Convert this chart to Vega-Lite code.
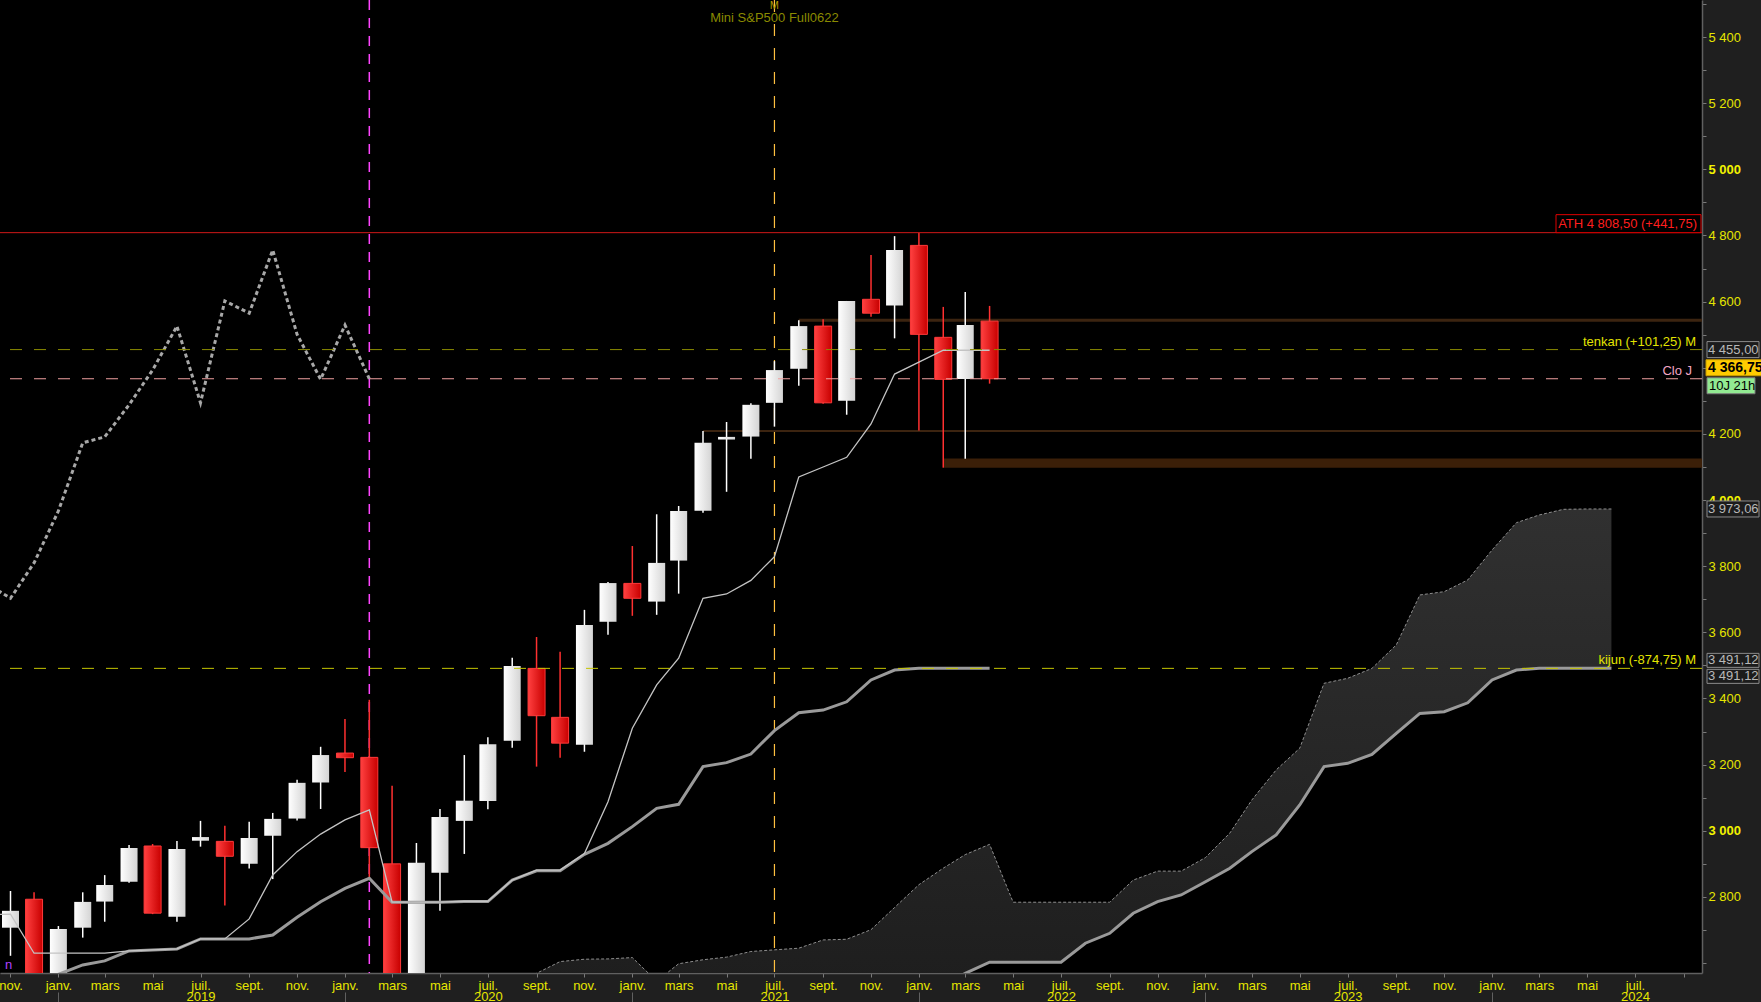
{
  "$schema": "https://vega.github.io/schema/vega-lite/v6.json",
  "width": 1702,
  "height": 973,
  "autosize": {"type": "none"},
  "padding": {"left": 0, "top": 0, "right": 59, "bottom": 29},
  "datasets": {
    "candles": [
      {"d":"2018-11-01","o":2707,"h":2818,"l":2622,"c":2758},
      {"d":"2018-12-01","o":2793,"h":2814,"l":2315,"c":2505},
      {"d":"2019-01-01","o":2480,"h":2712,"l":2440,"c":2703},
      {"d":"2019-02-01","o":2707,"h":2814,"l":2677,"c":2785},
      {"d":"2019-03-01","o":2786,"h":2866,"l":2725,"c":2836},
      {"d":"2019-04-01","o":2846,"h":2957,"l":2843,"c":2948},
      {"d":"2019-05-01","o":2954,"h":2960,"l":2748,"c":2751},
      {"d":"2019-06-01","o":2740,"h":2969,"l":2725,"c":2945},
      {"d":"2019-07-01","o":2970,"h":3030,"l":2952,"c":2981},
      {"d":"2019-08-01","o":2968,"h":3015,"l":2774,"c":2923},
      {"d":"2019-09-01","o":2900,"h":3027,"l":2886,"c":2978},
      {"d":"2019-10-01","o":2985,"h":3054,"l":2854,"c":3036},
      {"d":"2019-11-01","o":3037,"h":3154,"l":3031,"c":3145},
      {"d":"2019-12-01","o":3146,"h":3254,"l":3066,"c":3229},
      {"d":"2020-01-01","o":3235,"h":3338,"l":3178,"c":3221},
      {"d":"2020-02-01","o":3222,"h":3396,"l":2853,"c":2949},
      {"d":"2020-03-01","o":2900,"h":3136,"l":2180,"c":2555},
      {"d":"2020-04-01","o":2555,"h":2963,"l":2430,"c":2903},
      {"d":"2020-05-01","o":2873,"h":3066,"l":2758,"c":3042},
      {"d":"2020-06-01","o":3030,"h":3229,"l":2930,"c":3091},
      {"d":"2020-07-01","o":3090,"h":3283,"l":3065,"c":3262},
      {"d":"2020-08-01","o":3272,"h":3523,"l":3251,"c":3498},
      {"d":"2020-09-01","o":3491,"h":3586,"l":3194,"c":3348},
      {"d":"2020-10-01","o":3343,"h":3541,"l":3221,"c":3265},
      {"d":"2020-11-01","o":3260,"h":3668,"l":3239,"c":3622},
      {"d":"2020-12-01","o":3632,"h":3752,"l":3593,"c":3749},
      {"d":"2021-01-01","o":3748,"h":3861,"l":3650,"c":3703},
      {"d":"2021-02-01","o":3693,"h":3957,"l":3653,"c":3810},
      {"d":"2021-03-01","o":3817,"h":3982,"l":3717,"c":3967},
      {"d":"2021-04-01","o":3968,"h":4209,"l":3962,"c":4173},
      {"d":"2021-05-01","o":4183,"h":4236,"l":4025,"c":4191},
      {"d":"2021-06-01","o":4192,"h":4293,"l":4125,"c":4288},
      {"d":"2021-07-01","o":4294,"h":4420,"l":4222,"c":4393},
      {"d":"2021-08-01","o":4397,"h":4544,"l":4346,"c":4526},
      {"d":"2021-09-01","o":4526,"h":4547,"l":4291,"c":4294},
      {"d":"2021-10-01","o":4300,"h":4602,"l":4258,"c":4602},
      {"d":"2021-11-01","o":4607,"h":4741,"l":4554,"c":4565},
      {"d":"2021-12-01","o":4588,"h":4798,"l":4489,"c":4756},
      {"d":"2022-01-01","o":4770,"h":4808.5,"l":4210,"c":4501},
      {"d":"2022-02-01","o":4492,"h":4584,"l":4098,"c":4365},
      {"d":"2022-03-01","o":4366,"h":4629,"l":4125,"c":4529},
      {"d":"2022-04-01","o":4541,"h":4587,"l":4352,"c":4366.75}
    ],
    "ichi": [
      {"d":"2018-10-01","t":2747,"k":2478},
      {"d":"2018-11-01","t":2747.6,"k":2486},
      {"d":"2018-12-01","t":2629.8,"k":2460},
      {"d":"2019-01-01","t":2629.8,"k":2566},
      {"d":"2019-02-01","t":2629.8,"k":2594.4},
      {"d":"2019-03-01","t":2629.8,"k":2606.6},
      {"d":"2019-04-01","t":2636.8,"k":2636.8},
      {"d":"2019-05-01","t":2639.8,"k":2639.8},
      {"d":"2019-06-01","t":2642.8,"k":2642.8},
      {"d":"2019-07-01","t":2673,"k":2673},
      {"d":"2019-08-01","t":2673,"k":2673},
      {"d":"2019-09-01","t":2733.5,"k":2673},
      {"d":"2019-10-01","t":2866.5,"k":2685},
      {"d":"2019-11-01","t":2937,"k":2738.5},
      {"d":"2019-12-01","t":2990,"k":2785.7},
      {"d":"2020-01-01","t":3032.8,"k":2826},
      {"d":"2020-02-01","t":3063,"k":2856.5},
      {"d":"2020-03-01","t":2784,"k":2784},
      {"d":"2020-04-01","t":2784,"k":2784},
      {"d":"2020-05-01","t":2784,"k":2784},
      {"d":"2020-06-01","t":2787,"k":2786},
      {"d":"2020-07-01","t":2787,"k":2786},
      {"d":"2020-08-01","t":2851,"k":2851},
      {"d":"2020-09-01","t":2881,"k":2879},
      {"d":"2020-10-01","t":2881,"k":2879},
      {"d":"2020-11-01","t":2931,"k":2929},
      {"d":"2020-12-01","t":3088,"k":2962},
      {"d":"2021-01-01","t":3310,"k":3012.5},
      {"d":"2021-02-01","t":3441,"k":3068},
      {"d":"2021-03-01","t":3521.6,"k":3080},
      {"d":"2021-04-01","t":3703,"k":3194},
      {"d":"2021-05-01","t":3716,"k":3206},
      {"d":"2021-06-01","t":3757,"k":3232},
      {"d":"2021-07-01","t":3829,"k":3303},
      {"d":"2021-08-01","t":4070,"k":3357},
      {"d":"2021-09-01","t":4100,"k":3365},
      {"d":"2021-10-01","t":4129.4,"k":3390},
      {"d":"2021-11-01","t":4230,"k":3456},
      {"d":"2021-12-01","t":4381,"k":3486},
      {"d":"2022-01-01","t":4417,"k":3491.12},
      {"d":"2022-02-01","t":4453,"k":3491.12},
      {"d":"2022-03-01","t":4453,"k":3491.12},
      {"d":"2022-04-01","t":4453,"k":3491.12}
    ],
    "chikou": [
      {"d":"2018-10-01","v":3749},
      {"d":"2018-11-01","v":3703},
      {"d":"2018-12-01","v":3810},
      {"d":"2019-01-01","v":3967},
      {"d":"2019-02-01","v":4173},
      {"d":"2019-03-01","v":4191},
      {"d":"2019-04-01","v":4288},
      {"d":"2019-05-01","v":4393},
      {"d":"2019-06-01","v":4526},
      {"d":"2019-07-01","v":4294},
      {"d":"2019-08-01","v":4602},
      {"d":"2019-09-01","v":4565},
      {"d":"2019-10-01","v":4756},
      {"d":"2019-11-01","v":4501},
      {"d":"2019-12-01","v":4365},
      {"d":"2020-01-01","v":4529},
      {"d":"2020-02-01","v":4366.75}
    ],
    "cloud": [
      {"d":"2020-08-01","a":2530,"b":2380},
      {"d":"2020-09-01","a":2569,"b":2380},
      {"d":"2020-10-01","a":2604.5,"b":2380},
      {"d":"2020-11-01","a":2611.7,"b":2380},
      {"d":"2020-12-01","a":2612.6,"b":2380},
      {"d":"2021-01-01","a":2616.6,"b":2380},
      {"d":"2021-02-01","a":2545,"b":2380},
      {"d":"2021-03-01","a":2598,"b":2380},
      {"d":"2021-04-01","a":2610,"b":2380},
      {"d":"2021-05-01","a":2618,"b":2380},
      {"d":"2021-06-01","a":2635,"b":2384},
      {"d":"2021-07-01","a":2640,"b":2387},
      {"d":"2021-08-01","a":2645,"b":2390},
      {"d":"2021-09-01","a":2670,"b":2420},
      {"d":"2021-10-01","a":2672,"b":2420},
      {"d":"2021-11-01","a":2701,"b":2418},
      {"d":"2021-12-01","a":2768,"b":2432},
      {"d":"2022-01-01","a":2837,"b":2482},
      {"d":"2022-02-01","a":2887,"b":2532},
      {"d":"2022-03-01","a":2928,"b":2569},
      {"d":"2022-04-01","a":2959,"b":2602.6},
      {"d":"2022-05-01","a":2784,"b":2602.6},
      {"d":"2022-06-01","a":2784,"b":2602.6},
      {"d":"2022-07-01","a":2784,"b":2602.6},
      {"d":"2022-08-01","a":2784,"b":2660},
      {"d":"2022-09-01","a":2784,"b":2690},
      {"d":"2022-10-01","a":2851,"b":2750.7},
      {"d":"2022-11-01","a":2878,"b":2785.8},
      {"d":"2022-12-01","a":2878,"b":2806},
      {"d":"2023-01-01","a":2919,"b":2846},
      {"d":"2023-02-01","a":2993,"b":2886.7},
      {"d":"2023-03-01","a":3093,"b":2937},
      {"d":"2023-04-01","a":3184,"b":2987.5},
      {"d":"2023-05-01","a":3249.5,"b":3078},
      {"d":"2023-06-01","a":3446,"b":3194},
      {"d":"2023-07-01","a":3461,"b":3204},
      {"d":"2023-08-01","a":3491,"b":3231},
      {"d":"2023-09-01","a":3562,"b":3294.8},
      {"d":"2023-10-01","a":3713,"b":3355},
      {"d":"2023-11-01","a":3723,"b":3360},
      {"d":"2023-12-01","a":3758.4,"b":3387},
      {"d":"2024-01-01","a":3849,"b":3456},
      {"d":"2024-02-01","a":3931.6,"b":3486},
      {"d":"2024-03-01","a":3954.9,"b":3491.12},
      {"d":"2024-04-01","a":3972,"b":3491.12},
      {"d":"2024-05-01","a":3973.06,"b":3491.12},
      {"d":"2024-06-01","a":3973.06,"b":3491.12}
    ],
    "yticks": [
      {"v":2600},{"v":2700},{"v":2800},{"v":2900},{"v":3000},{"v":3100},{"v":3200},{"v":3300},{"v":3400},{"v":3500},
      {"v":3600},{"v":3700},{"v":3800},{"v":3900},{"v":4000},{"v":4100},{"v":4200},{"v":4300},{"v":4400},{"v":4500},
      {"v":4600},{"v":4700},{"v":4800},{"v":4900},{"v":5000},{"v":5100},{"v":5200},{"v":5300},{"v":5400},{"v":5500}
    ]
  },
  "resolve": {"axis": {"x": "independent", "y": "independent"}},
  "layer": [
    {
      "data": {"name": "cloud"},
      "mark": {"type": "area", "clip": true, "fillOpacity": 1, "stroke": null,
        "fill": {"gradient": "linear", "x1": 0, "y1": 0, "x2": 0, "y2": 1,
          "stops": [{"offset": 0, "color": "#303030"}, {"offset": 1, "color": "#1c1c1c"}]}},
      "encoding": {
        "x": {"field": "d", "type": "temporal",
          "scale": {"type": "utc", "domain": [{"year": 2018, "month": 10, "date": 25, "utc": true}, {"year": 2024, "month": 9, "date": 18, "utc": true}]},
          "axis": {"orient": "bottom", "title": null, "grid": false,
            "tickCount": {"interval": "month", "step": 2},
            "labelExpr": "(utcyear(datum.value) == 2024 && utcmonth(datum.value) == 8) ? '' : ['janv.','févr.','mars','avr.','mai','juin','juil.','août','sept.','oct.','nov.','déc.'][utcmonth(datum.value)]",
            "tickSize": 4, "labelPadding": 2, "labelFontSize": 13, "labelFont": "Liberation Sans",
            "labelColor": "#e6e600", "domainColor": "#606060", "domainWidth": 1.5, "tickColor": "#7a7a7a",
            "labelOverlap": false, "labelFlush": false, "labelBound": false}},
        "y": {"field": "a", "type": "quantitative",
          "scale": {"domain": [2570, 5512], "nice": false, "zero": false},
          "axis": null},
        "y2": {"field": "b"}
      }
    },
    {
      "data": {"name": "yticks"},
      "mark": {"type": "point", "opacity": 0, "size": 1},
      "encoding": {
        "y": {"field": "v", "type": "quantitative",
          "axis": {"orient": "right", "title": null, "grid": false,
            "values": [2600,2700,2800,2900,3000,3100,3200,3300,3400,3500,3600,3700,3800,3900,4000,4100,4200,4300,4400,4500,4600,4700,4800,4900,5000,5100,5200,5300,5400,5500],
            "labelExpr": "(datum.value >= 2800 && datum.value % 200 == 0 && datum.value % 1000 != 0) ? replace(format(datum.value, ','), ',', ' ') : ''",
            "tickSize": 4, "labelPadding": 2, "labelFontSize": 13, "labelFont": "Liberation Sans",
            "labelColor": "#e6e600", "domainColor": "#606060", "domainWidth": 1.5, "tickColor": "#7a7a7a",
            "labelOverlap": false, "labelFlush": false, "labelBound": false}}
      }
    },
    {
      "data": {"name": "yticks"},
      "mark": {"type": "point", "opacity": 0, "size": 1},
      "encoding": {
        "y": {"field": "v", "type": "quantitative",
          "axis": {"orient": "right", "title": null, "grid": false,
            "values": [3000, 4000, 5000],
            "labelExpr": "replace(format(datum.value, ','), ',', ' ')",
            "labelFontWeight": "bold", "domain": false, "ticks": true, "tickOpacity": 0,
            "tickSize": 4, "labelPadding": 2, "labelFontSize": 13, "labelFont": "Liberation Sans",
            "labelColor": "#f2f200",
            "labelOverlap": false, "labelFlush": false, "labelBound": false}}
      }
    },
    {
      "data": {"name": "cloud"},
      "mark": {"type": "line", "clip": true, "color": "#8e8e8e", "strokeWidth": 1, "strokeDash": [3, 2]},
      "encoding": {
        "x": {"field": "d", "type": "temporal",
          "axis": {"orient": "bottom", "title": null, "grid": false,
            "values": [{"year": 2019, "month": 7, "date": 1, "utc": true}, {"year": 2020, "month": 7, "date": 1, "utc": true}, {"year": 2021, "month": 7, "date": 1, "utc": true}, {"year": 2022, "month": 7, "date": 1, "utc": true}, {"year": 2023, "month": 7, "date": 1, "utc": true}, {"year": 2024, "month": 7, "date": 1, "utc": true}],
            "labelExpr": "'' + utcyear(datum.value)",
            "domain": false, "ticks": true, "tickSize": 0, "tickOpacity": 0, "labelPadding": 17,
            "labelFontSize": 13, "labelFont": "Liberation Sans", "labelColor": "#e6e600",
            "labelOverlap": false, "labelFlush": false, "labelBound": false}},
        "y": {"field": "a", "type": "quantitative", "axis": null}
      }
    },
    {
      "data": {"name": "cloud"},
      "mark": {"type": "line", "clip": true, "color": "#9a9a9a", "strokeWidth": 3},
      "encoding": {
        "x": {"field": "d", "type": "temporal",
          "axis": {"orient": "bottom", "title": null, "grid": false, "offset": 19,
            "tickCount": {"interval": "year"}, "labels": false, "domain": false,
            "ticks": true, "tickSize": 10, "tickColor": "#606060"}},
        "y": {"field": "b", "type": "quantitative", "axis": null}
      }
    },
    {
      "data": {"values": [{"d": "2020-02-01"}]},
      "mark": {"type": "rule", "color": "#ff44ff", "strokeWidth": 1.5, "strokeDash": [10, 8]},
      "encoding": {"x": {"field": "d", "type": "temporal", "axis": null}}
    },
    {
      "data": {"values": [{"d": "2021-07-01"}]},
      "mark": {"type": "rule", "color": "#ffc040", "strokeWidth": 1.2, "strokeDash": [12, 12]},
      "encoding": {"x": {"field": "d", "type": "temporal", "axis": null}}
    },
    {
      "data": {"values": [{"d": "2022-02-01", "lo": 4098, "hi": 4126}]},
      "mark": {"type": "rect", "color": "#3b1f08"},
      "encoding": {
        "x": {"field": "d", "type": "temporal", "axis": null},
        "x2": {"value": "width"},
        "y": {"field": "hi", "type": "quantitative", "axis": null},
        "y2": {"field": "lo"}
      }
    },
    {
      "data": {"values": [{"d": "2021-08-01", "v": 4544}]},
      "mark": {"type": "rule", "color": "#3c2410", "strokeWidth": 3},
      "encoding": {
        "x": {"field": "d", "type": "temporal", "axis": null},
        "x2": {"value": "width"},
        "y": {"field": "v", "type": "quantitative", "axis": null}
      }
    },
    {
      "data": {"values": [{"d": "2021-04-01", "v": 4209}]},
      "mark": {"type": "rule", "color": "#3c2410", "strokeWidth": 2},
      "encoding": {
        "x": {"field": "d", "type": "temporal", "axis": null},
        "x2": {"value": "width"},
        "y": {"field": "v", "type": "quantitative", "axis": null}
      }
    },
    {
      "data": {"name": "candles"},
      "mark": {"type": "rule", "clip": true, "strokeWidth": 1.5},
      "encoding": {
        "x": {"field": "d", "type": "temporal", "axis": null},
        "y": {"field": "l", "type": "quantitative", "axis": null},
        "y2": {"field": "h"},
        "color": {"condition": {"test": "datum.c < datum.o", "value": "#ff3030"}, "value": "#ffffff"}
      }
    },
    {
      "data": {"name": "candles"},
      "transform": [{"filter": "datum.c >= datum.o"}],
      "mark": {"type": "bar", "clip": true, "width": 17, "stroke": null,
        "fill": {"gradient": "linear", "x1": 0, "y1": 0, "x2": 1, "y2": 0,
          "stops": [{"offset": 0, "color": "#ffffff"}, {"offset": 1, "color": "#d4d4d4"}]}},
      "encoding": {
        "x": {"field": "d", "type": "temporal", "axis": null},
        "y": {"field": "o", "type": "quantitative", "axis": null},
        "y2": {"field": "c"}
      }
    },
    {
      "data": {"name": "candles"},
      "transform": [{"filter": "datum.c < datum.o"}],
      "mark": {"type": "bar", "clip": true, "width": 17, "stroke": "#ff3a3a", "strokeWidth": 1,
        "fill": {"gradient": "linear", "x1": 0, "y1": 0, "x2": 1, "y2": 0,
          "stops": [{"offset": 0, "color": "#ff4040"}, {"offset": 1, "color": "#c80000"}]}},
      "encoding": {
        "x": {"field": "d", "type": "temporal", "axis": null},
        "y": {"field": "o", "type": "quantitative", "axis": null},
        "y2": {"field": "c"}
      }
    },
    {
      "data": {"name": "ichi"},
      "mark": {"type": "line", "clip": true, "color": "#9a9a9a", "strokeWidth": 3},
      "encoding": {
        "x": {"field": "d", "type": "temporal", "axis": null},
        "y": {"field": "k", "type": "quantitative", "axis": null}
      }
    },
    {
      "data": {"name": "ichi"},
      "mark": {"type": "line", "clip": true, "color": "#c4c4c4", "strokeWidth": 1.3},
      "encoding": {
        "x": {"field": "d", "type": "temporal", "axis": null},
        "y": {"field": "t", "type": "quantitative", "axis": null}
      }
    },
    {
      "data": {"name": "chikou"},
      "mark": {"type": "line", "clip": true, "color": "#a8a8a8", "strokeWidth": 3, "strokeDash": [4, 3]},
      "encoding": {
        "x": {"field": "d", "type": "temporal", "axis": null},
        "y": {"field": "v", "type": "quantitative", "axis": null}
      }
    },
    {
      "data": {"values": [{"v": 4455}]},
      "mark": {"type": "rule", "color": "#8a8a00", "strokeWidth": 1, "strokeDash": [12, 12]},
      "encoding": {"y": {"field": "v", "type": "quantitative", "axis": null}}
    },
    {
      "data": {"values": [{"v": 4366.75}]},
      "mark": {"type": "rule", "color": "#f0a0a0", "strokeWidth": 1, "strokeDash": [12, 12]},
      "encoding": {"y": {"field": "v", "type": "quantitative", "axis": null}}
    },
    {
      "data": {"values": [{"v": 3491.12}]},
      "mark": {"type": "rule", "color": "#c4c400", "strokeWidth": 1, "strokeDash": [12, 12]},
      "encoding": {"y": {"field": "v", "type": "quantitative", "axis": null}}
    },
    {
      "data": {"values": [{"v": 4808.5}]},
      "mark": {"type": "rule", "color": "#d01818", "strokeWidth": 1},
      "encoding": {"y": {"field": "v", "type": "quantitative", "axis": null}}
    },
    {
      "data": {"values": [{"v": 4455, "t": "tenkan (+101,25) M"}, {"v": 3491.12, "t": "kijun (-874,75) M"}]},
      "mark": {"type": "text", "align": "right", "baseline": "bottom", "dx": -6, "dy": -1, "color": "#e4e400", "font": "Liberation Sans", "fontSize": 13},
      "encoding": {
        "x": {"value": "width"},
        "y": {"field": "v", "type": "quantitative", "axis": null},
        "text": {"field": "t"}
      }
    },
    {
      "data": {"values": [{"v": 4366.75, "t": "Clo J"}]},
      "mark": {"type": "text", "align": "right", "baseline": "bottom", "dx": -10, "dy": -1, "color": "#f4a6c4", "font": "Liberation Sans", "fontSize": 13},
      "encoding": {
        "x": {"value": "width"},
        "y": {"field": "v", "type": "quantitative", "axis": null},
        "text": {"field": "t"}
      }
    },
    {
      "data": {"values": [{"v": 4808.5}]},
      "mark": {"type": "rect", "fill": "#000000", "stroke": "#e00000", "strokeWidth": 1, "xOffset": -146, "x2Offset": -1, "yOffset": -18, "y2Offset": 0},
      "encoding": {
        "x": {"value": "width"},
        "x2": {"value": "width"},
        "y": {"field": "v", "type": "quantitative", "axis": null},
        "y2": {"field": "v"}
      }
    },
    {
      "data": {"values": [{"v": 4808.5, "t": "ATH 4 808,50 (+441,75)"}]},
      "mark": {"type": "text", "align": "right", "baseline": "middle", "dx": -5, "dy": -9, "color": "#ff1e1e", "font": "Liberation Sans", "fontSize": 13},
      "encoding": {
        "x": {"value": "width"},
        "y": {"field": "v", "type": "quantitative", "axis": null},
        "text": {"field": "t"}
      }
    },
    {
      "data": {"values": [{"v": 4455}, {"v": 3973.06}]},
      "mark": {"type": "rect", "fill": "#1c1c1c", "stroke": "#8a8a8a", "strokeWidth": 1, "xOffset": 5, "x2Offset": 57, "yOffset": -8, "y2Offset": 8},
      "encoding": {
        "x": {"value": "width"}, "x2": {"value": "width"},
        "y": {"field": "v", "type": "quantitative", "axis": null}, "y2": {"field": "v"}
      }
    },
    {
      "data": {"values": [{"v": 4455, "t": "4 455,00"}, {"v": 3973.06, "t": "3 973,06"}]},
      "mark": {"type": "text", "align": "left", "baseline": "middle", "dx": 6, "dy": 0, "color": "#b8b8b8", "font": "Liberation Sans", "fontSize": 13},
      "encoding": {
        "x": {"value": "width"},
        "y": {"field": "v", "type": "quantitative", "axis": null},
        "text": {"field": "t"}
      }
    },
    {
      "data": {"values": [{"v": 3491.12}]},
      "mark": {"type": "rect", "fill": "#1c1c1c", "stroke": "#8a8a8a", "strokeWidth": 1, "xOffset": 5, "x2Offset": 57, "yOffset": -15, "y2Offset": -1},
      "encoding": {
        "x": {"value": "width"}, "x2": {"value": "width"},
        "y": {"field": "v", "type": "quantitative", "axis": null}, "y2": {"field": "v"}
      }
    },
    {
      "data": {"values": [{"v": 3491.12}]},
      "mark": {"type": "rect", "fill": "#1c1c1c", "stroke": "#8a8a8a", "strokeWidth": 1, "xOffset": 5, "x2Offset": 57, "yOffset": 1, "y2Offset": 15},
      "encoding": {
        "x": {"value": "width"}, "x2": {"value": "width"},
        "y": {"field": "v", "type": "quantitative", "axis": null}, "y2": {"field": "v"}
      }
    },
    {
      "data": {"values": [{"v": 3491.12, "t": "3 491,12"}]},
      "mark": {"type": "text", "align": "left", "baseline": "middle", "dx": 6, "dy": -8, "color": "#b8b8b8", "font": "Liberation Sans", "fontSize": 13},
      "encoding": {
        "x": {"value": "width"},
        "y": {"field": "v", "type": "quantitative", "axis": null},
        "text": {"field": "t"}
      }
    },
    {
      "data": {"values": [{"v": 3491.12, "t": "3 491,12"}]},
      "mark": {"type": "text", "align": "left", "baseline": "middle", "dx": 6, "dy": 8, "color": "#b8b8b8", "font": "Liberation Sans", "fontSize": 13},
      "encoding": {
        "x": {"value": "width"},
        "y": {"field": "v", "type": "quantitative", "axis": null},
        "text": {"field": "t"}
      }
    },
    {
      "data": {"values": [{"v": 4366.75}]},
      "mark": {"type": "rect", "fill": "#ffcc00", "stroke": "#c89a00", "strokeWidth": 1, "xOffset": 4, "x2Offset": 62, "yOffset": -19, "y2Offset": -3},
      "encoding": {
        "x": {"value": "width"}, "x2": {"value": "width"},
        "y": {"field": "v", "type": "quantitative", "axis": null}, "y2": {"field": "v"}
      }
    },
    {
      "data": {"values": [{"v": 4366.75, "t": "4 366,75"}]},
      "mark": {"type": "text", "align": "left", "baseline": "middle", "dx": 6, "dy": -11, "color": "#000000", "font": "Liberation Sans", "fontSize": 14, "fontWeight": "bold"},
      "encoding": {
        "x": {"value": "width"},
        "y": {"field": "v", "type": "quantitative", "axis": null},
        "text": {"field": "t"}
      }
    },
    {
      "data": {"values": [{"v": 4366.75}]},
      "mark": {"type": "rect", "fill": "#92ea92", "stroke": "#7a7a7a", "strokeWidth": 1, "xOffset": 5, "x2Offset": 53, "yOffset": -1, "y2Offset": 15},
      "encoding": {
        "x": {"value": "width"}, "x2": {"value": "width"},
        "y": {"field": "v", "type": "quantitative", "axis": null}, "y2": {"field": "v"}
      }
    },
    {
      "data": {"values": [{"v": 4366.75, "t": "10J 21h"}]},
      "mark": {"type": "text", "align": "left", "baseline": "middle", "dx": 7, "dy": 7, "color": "#000000", "font": "Liberation Sans", "fontSize": 13},
      "encoding": {
        "x": {"value": "width"},
        "y": {"field": "v", "type": "quantitative", "axis": null},
        "text": {"field": "t"}
      }
    },
    {
      "data": {"values": [{"d": "2021-07-01", "v": 5457, "t": "Mini S&P500 Full0622"}]},
      "mark": {"type": "text", "align": "center", "baseline": "middle", "color": "#8a8a00", "font": "Liberation Sans", "fontSize": 13},
      "encoding": {
        "x": {"field": "d", "type": "temporal", "axis": null},
        "y": {"field": "v", "type": "quantitative", "axis": null},
        "text": {"field": "t"}
      }
    },
    {
      "data": {"values": [{"d": "2021-07-01", "v": 5494, "t": "M"}]},
      "mark": {"type": "text", "align": "center", "baseline": "middle", "color": "#b09a00", "font": "Liberation Sans", "fontSize": 11},
      "encoding": {
        "x": {"field": "d", "type": "temporal", "axis": null},
        "y": {"field": "v", "type": "quantitative", "axis": null},
        "text": {"field": "t"}
      }
    },
    {
      "data": {"values": [{"d": "2018-10-25", "v": 2594, "t": "n"}]},
      "mark": {"type": "text", "align": "left", "baseline": "middle", "color": "#b040ff", "font": "Liberation Sans", "fontSize": 13},
      "encoding": {
        "x": {"field": "d", "type": "temporal", "axis": null},
        "y": {"field": "v", "type": "quantitative", "axis": null},
        "text": {"field": "t"}
      }
    }
  ],
  "config": {
    "background": "#1f1f1f",
    "view": {"fill": "#000000", "stroke": null},
    "font": "Liberation Sans"
  }
}
